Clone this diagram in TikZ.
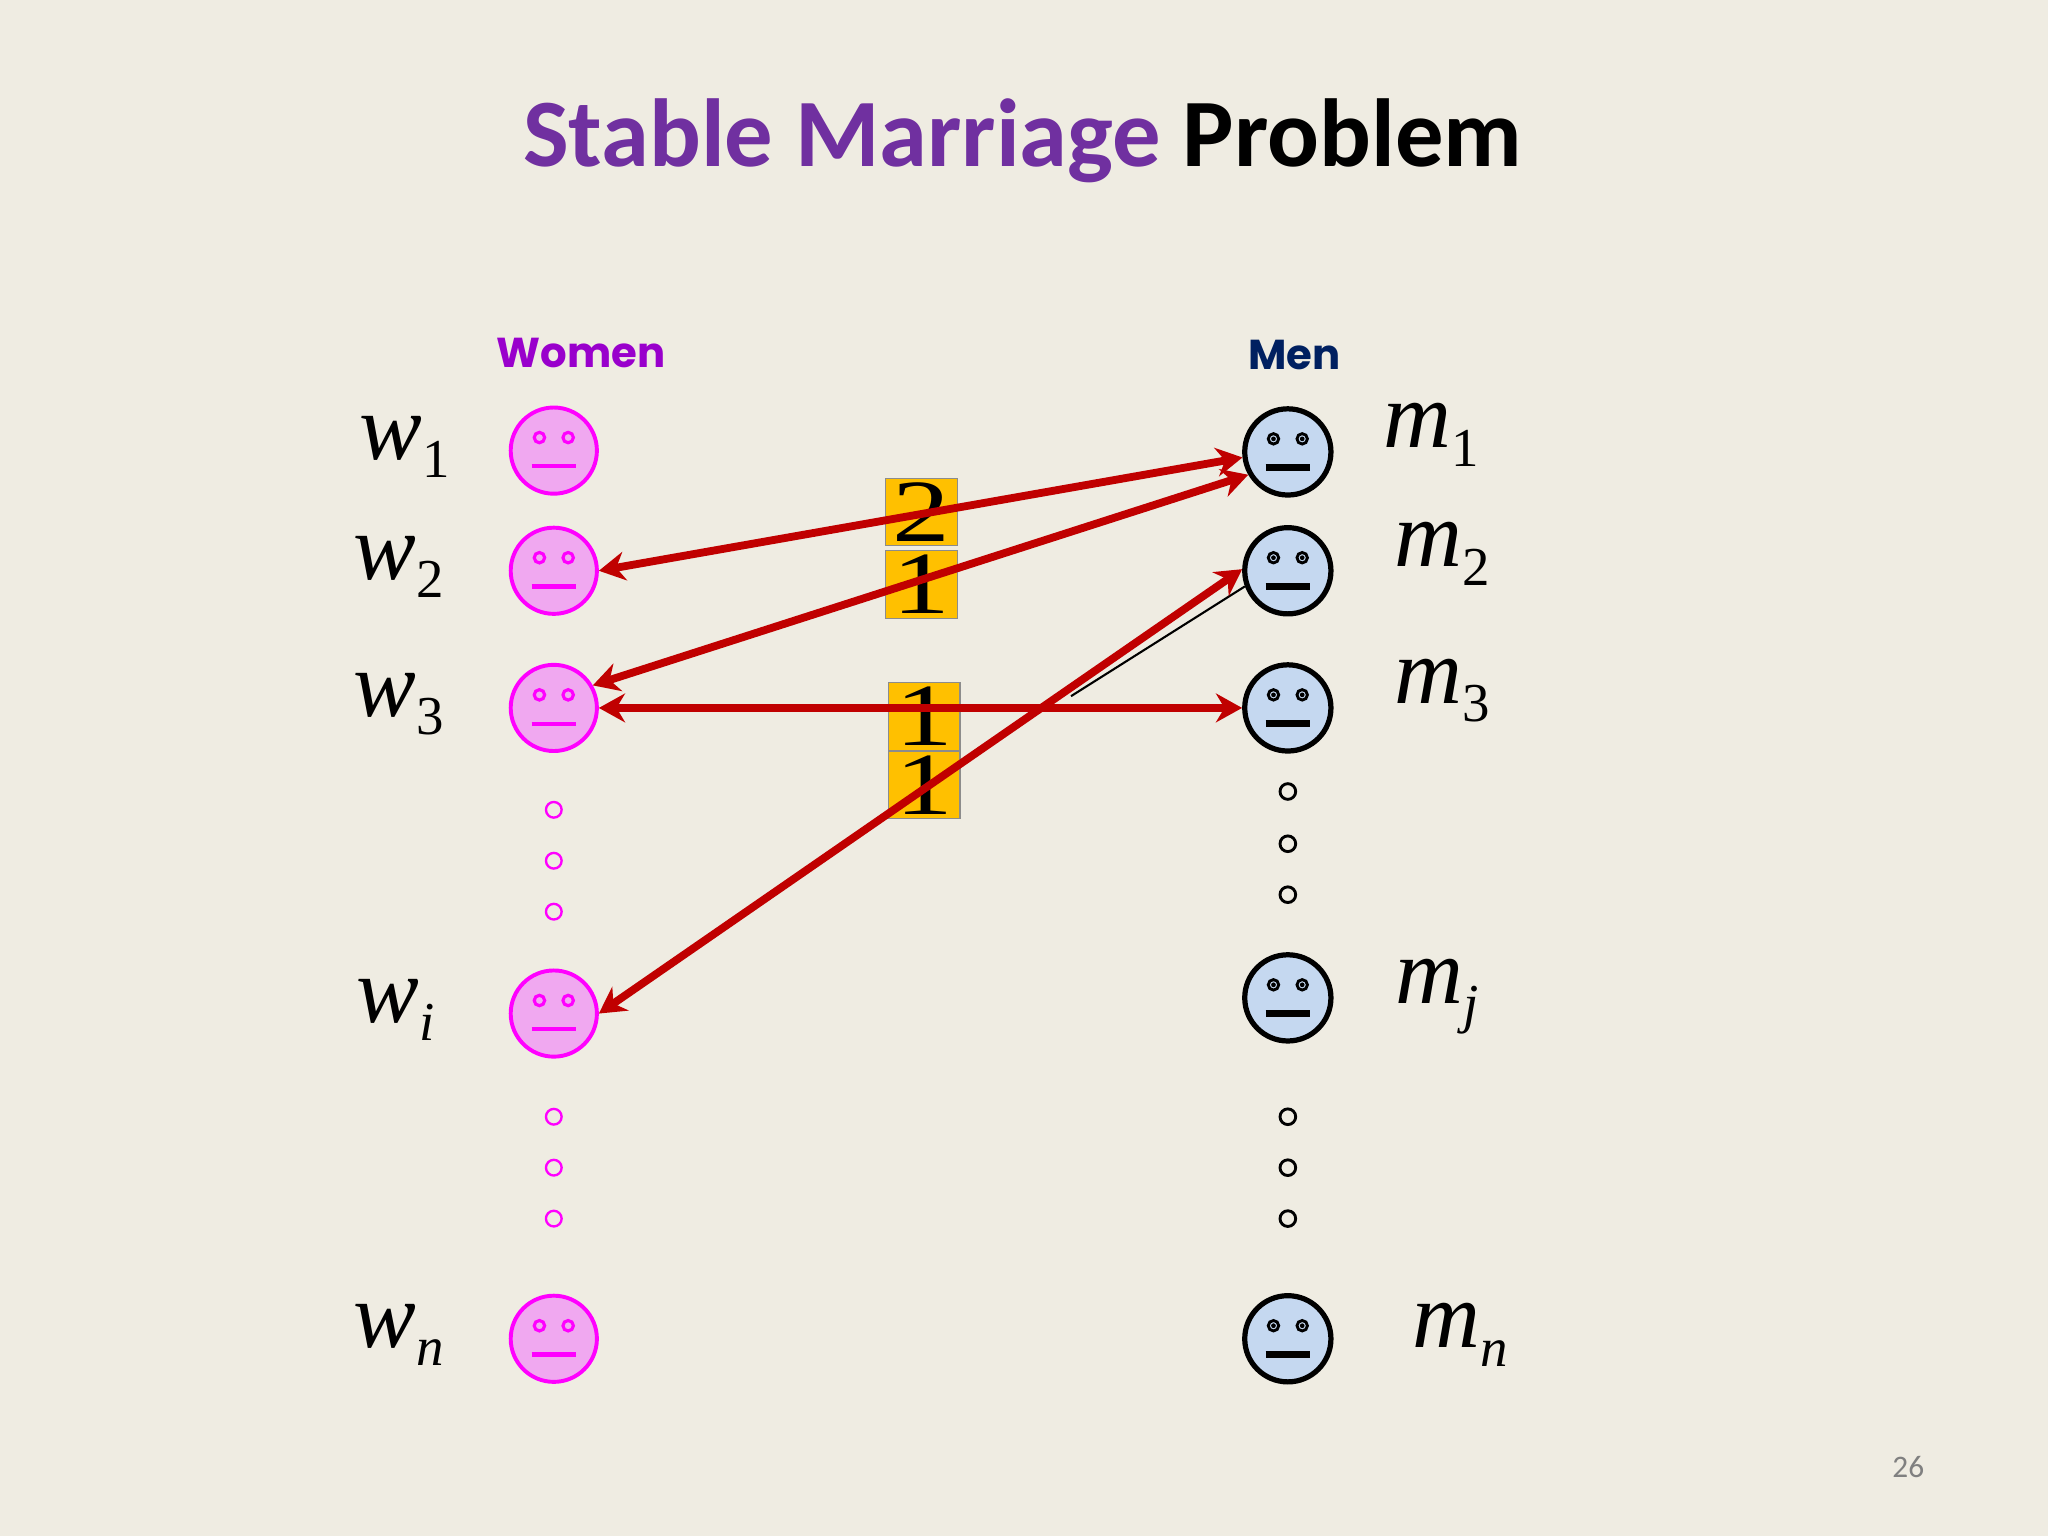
\documentclass[tikz,border=0pt]{standalone}
\usepackage{fontspec}
\setmainfont{Liberation Serif}
\newfontfamily\titlefont{Carlito}
\newfontfamily\labfont{Poppins}
\usetikzlibrary{arrows.meta}
\definecolor{bg}{HTML}{EFECE2}
\definecolor{wfill}{HTML}{F0A8F0}
\definecolor{wline}{HTML}{FF00FF}
\definecolor{mfill}{HTML}{C5D8F0}
\definecolor{ared}{HTML}{C00000}
\definecolor{tpurple}{HTML}{7030A0}
\definecolor{box}{HTML}{FFC000}
\definecolor{wlab}{HTML}{9900CC}
\definecolor{mlab}{HTML}{002060}
\newcommand{\sbs}[1]{\textup{\fontsize{21}{21}\selectfont\raisebox{-7pt}{#1}}}
\newcommand{\sbi}[1]{{\fontsize{21}{21}\selectfont\raisebox{-7pt}{#1}}}
\begin{document}
\begin{tikzpicture}[x=0.5pt,y=-0.5pt,
  wface/.style={circle,draw=wline,fill=wfill,line width=1.5pt,minimum size=33pt,inner sep=0},
  mface/.style={circle,draw=black,fill=mfill,line width=2pt,minimum size=33pt,inner sep=0},
  wdot/.style={circle,draw=wline,line width=0.9pt,minimum size=6pt,inner sep=0},
  mdot/.style={circle,draw=black,line width=1.1pt,minimum size=6pt,inner sep=0},
  num/.style={draw=black!45,fill=box,line width=0.4pt,minimum width=27.5pt,minimum height=26pt,inner sep=0,font=\fontsize{34}{34}\selectfont},
  lab/.style={font=\fontsize{36}{36}\selectfont\itshape},
  rel/.style={draw=ared,line width=3pt,{Stealth[length=10pt,width=11pt]}-{Stealth[length=10pt,width=11pt]}}]
\fill[bg] (0,0) rectangle (1568,1176);
\node (title) at (783,108) {\titlefont\bfseries\fontsize{37}{37}\selectfont\textcolor{tpurple}{Stable Marriage} Problem};
\node[text=wlab] (women) at (445,270) {\labfont\bfseries\fontsize{16}{16}\selectfont Women};
\node[text=mlab] (men) at (991,272) {\labfont\bfseries\fontsize{16}{16}\selectfont Men};
\node[text=gray] (pg) at (1461,1123) {\titlefont\fontsize{12}{12}\selectfont 26};
% faces
\foreach \n/\y in {w1/345,w2/437,w3/542,wi/776,wn/1025}{
  \node[wface] (\n) at (424,\y) {};
  \draw[wline,line width=1.2pt] (\n.center)+(-11,-10) circle (4) +(11,-10) circle (4);
  \draw[wline,line width=1.6pt] (\n.center)+(-17,12) -- +(17,12);
}
\foreach \n/\y in {m1/346,m2/437,m3/542,mj/764,mn/1025}{
  \node[mface] (\n) at (986,\y) {};
  \draw[black,line width=1.1pt] (\n.center)+(-11,-10) circle (4) +(11,-10) circle (4);
  \fill[black] (\n.center)+(-11,-10) circle (1.8) +(11,-10) circle (1.8);
  \draw[black,line width=2.4pt] (\n.center)+(-17,12) -- +(17,12);
}
\foreach \y [count=\i] in {620,659,698,855,894,933}{\node[wdot] (wd\i) at (424,\y) {};}
\foreach \y [count=\i] in {606,646,685,855,894,933}{\node[mdot] (md\i) at (986,\y) {};}
% labels
\node[lab] (lw1) at (310,342) {w\sbs{1}};
\node[lab] (lw2) at (305,434) {w\sbs{2}};
\node[lab] (lw3) at (305,539) {w\sbs{3}};
\node[lab] (lwi) at (303,773) {w\sbi{i}};
\node[lab] (lwn) at (305,1022) {w\sbi{n}};
\node[lab] (lm1) at (1096,333) {m\sbs{1}};
\node[lab] (lm2) at (1104,424) {m\sbs{2}};
\node[lab] (lm3) at (1104,529) {m\sbs{3}};
\node[lab] (lmj) at (1100,763) {m\sbi{j}};
\node[lab] (lmn) at (1118,1022) {m\sbi{n}};
% boxes
\node[num] (b1) at (705.5,392) {\scalebox{1.3}[1]{2}};
\node[num] (b2) at (705.5,447.5) {\scalebox{1.3}[1]{1}};
\node[num] (b3) at (707.5,548.5) {\scalebox{1.3}[1]{1}};
\node[num] (b4) at (707.5,601) {\scalebox{1.3}[1]{1}};
% arrows
\draw[black,line width=0.8pt] (820,533) -- (m2.200);
\draw[rel] (w2.east) -- (m1.187);
\draw[rel] (w3.30) -- (m1.210);
\draw[rel] (w3.east) -- (m3.west);
\draw[rel] (wi.east) -- (m2.178);
\end{tikzpicture}
\end{document}
